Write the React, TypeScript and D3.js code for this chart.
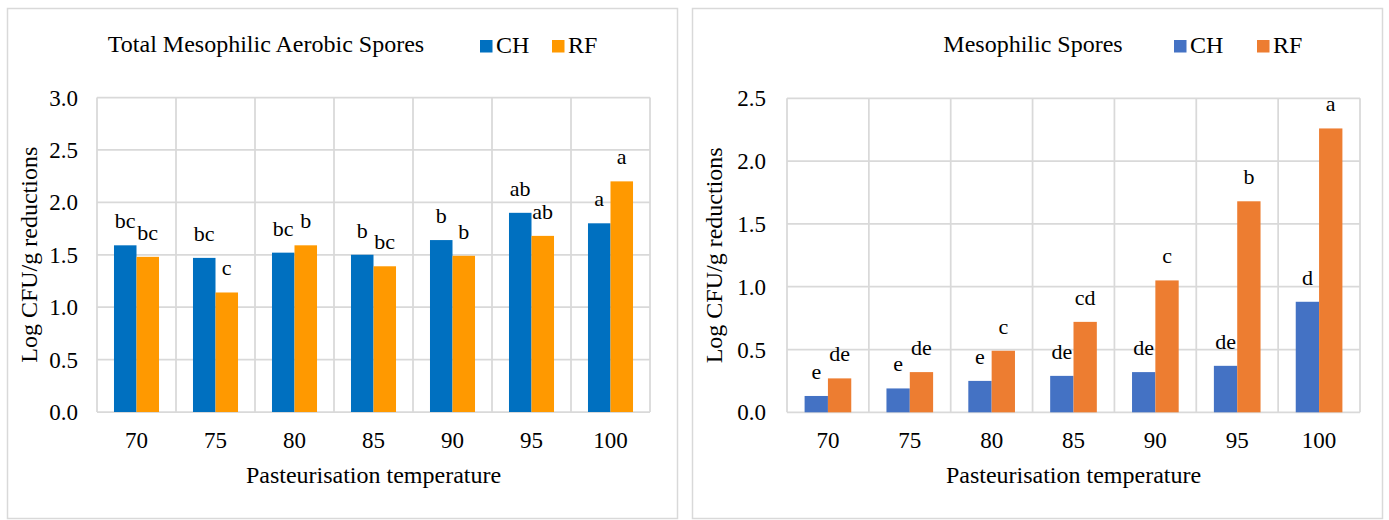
import React from "react";
import * as d3 from "d3";

const categories = ["70", "75", "80", "85", "90", "95", "100"];
const seriesNames = ["CH", "RF"];

// Left chart: Total Mesophilic Aerobic Spores
const leftCH = [1.59, 1.47, 1.52, 1.5, 1.64, 1.9, 1.8];
const leftRF = [1.48, 1.14, 1.59, 1.39, 1.49, 1.68, 2.2];
const leftCHLabels = ["bc", "bc", "bc", "b", "b", "ab", "a"];
const leftRFLabels = ["bc", "c", "b", "bc", "b", "ab", "a"];
const leftTicks = [0, 0.5, 1.0, 1.5, 2.0, 2.5, 3.0];

// Right chart: Mesophilic Spores
const rightCH = [0.13, 0.19, 0.25, 0.29, 0.32, 0.37, 0.88];
const rightRF = [0.27, 0.32, 0.49, 0.72, 1.05, 1.68, 2.26];
const rightCHLabels = ["e", "e", "e", "de", "de", "de", "d"];
const rightRFLabels = ["de", "de", "c", "cd", "c", "b", "a"];
const rightTicks = [0, 0.5, 1.0, 1.5, 2.0, 2.5];

const FONT = "'Liberation Serif', 'Times New Roman', serif";
const GRID = "#d9d9d9";

type ChartProps = {
  frame: { x: number; y: number; w: number; h: number };
  plot: { x0: number; x1: number; top: number; bottom: number };
  yMax: number;
  ticks: number[];
  ch: number[];
  rf: number[];
  chLabels: string[];
  rfLabels: string[];
  colors: string[];
  title: string;
  titleX: number;
  legendX: number[];
  yTitleX: number;
  yTickEnd: number;
};

function Chart(p: ChartProps) {
  const x = d3.scaleBand<string>().domain(categories).range([p.plot.x0, p.plot.x1]).padding(0);
  const bw = x.bandwidth();
  const inner = d3
    .scaleBand<string>()
    .domain(seriesNames)
    .range([bw * 0.215, bw * 0.785])
    .padding(0);
  const y = d3.scaleLinear().domain([0, p.yMax]).range([p.plot.bottom, p.plot.top]);
  const fmt = d3.format(".1f");
  const series = [
    { name: "CH", values: p.ch, labels: p.chLabels, color: p.colors[0] },
    { name: "RF", values: p.rf, labels: p.rfLabels, color: p.colors[1] },
  ];
  const midX = (p.plot.x0 + p.plot.x1) / 2;
  const midY = (p.plot.top + p.plot.bottom) / 2;
  const boundaries = categories.map((c) => x(c) as number).concat([p.plot.x1]);

  return (
    <g>
      <rect
        x={p.frame.x}
        y={p.frame.y}
        width={p.frame.w}
        height={p.frame.h}
        fill="#fff"
        stroke={GRID}
        strokeWidth={1.5}
      />
      {/* horizontal grid */}
      {p.ticks.map((t) => (
        <line
          key={"h" + t}
          x1={p.plot.x0}
          x2={p.plot.x1}
          y1={y(t)}
          y2={y(t)}
          stroke={GRID}
          strokeWidth={1.75}
        />
      ))}
      {/* vertical grid */}
      {boundaries.map((bx, i) => (
        <line
          key={"v" + i}
          x1={bx}
          x2={bx}
          y1={p.plot.top}
          y2={p.plot.bottom}
          stroke={GRID}
          strokeWidth={1.75}
        />
      ))}
      {/* bars */}
      {series.map((s) =>
        categories.map((c, i) => {
          const bx = (x(c) as number) + (inner(s.name) as number);
          const top = y(s.values[i]);
          return (
            <rect
              key={s.name + c}
              x={bx}
              y={top}
              width={inner.bandwidth()}
              height={y(0) - top}
              fill={s.color}
            />
          );
        })
      )}
      {/* data labels */}
      {series.map((s) =>
        categories.map((c, i) => {
          const cx = (x(c) as number) + (inner(s.name) as number) + inner.bandwidth() / 2;
          return (
            <text
              key={"l" + s.name + c}
              x={cx}
              y={y(s.values[i]) - 17}
              textAnchor="middle"
              fontFamily={FONT}
              fontSize={22}
              fill="#000"
            >
              {s.labels[i]}
            </text>
          );
        })
      )}
      {/* y tick labels */}
      {p.ticks.map((t) => (
        <text
          key={"yt" + t}
          x={p.yTickEnd}
          y={y(t)}
          dy="0.35em"
          textAnchor="end"
          fontFamily={FONT}
          fontSize={23}
          fill="#000"
        >
          {fmt(t)}
        </text>
      ))}
      {/* x tick labels */}
      {categories.map((c) => (
        <text
          key={"xt" + c}
          x={(x(c) as number) + bw / 2}
          y={448}
          textAnchor="middle"
          fontFamily={FONT}
          fontSize={23}
          fill="#000"
        >
          {c}
        </text>
      ))}
      {/* axis titles */}
      <text x={midX} y={483} textAnchor="middle" fontFamily={FONT} fontSize={24} fill="#000">
        Pasteurisation temperature
      </text>
      <text
        transform={`translate(${p.yTitleX},${midY}) rotate(-90)`}
        textAnchor="middle"
        dy="0.35em"
        fontFamily={FONT}
        fontSize={24}
        fill="#000"
      >
        Log CFU/g reductions
      </text>
      {/* title */}
      <text x={p.titleX} y={52} textAnchor="middle" fontFamily={FONT} fontSize={24} fill="#000">
        {p.title}
      </text>
      {/* legend */}
      {series.map((s, i) => (
        <g key={"lg" + s.name}>
          <rect x={p.legendX[i]} y={40} width={12.5} height={12.5} fill={s.color} />
          <text x={p.legendX[i] + 16} y={53} fontFamily={FONT} fontSize={24} fill="#000">
            {s.name}
          </text>
        </g>
      ))}
    </g>
  );
}

export default function App() {
  return (
    <svg
      width={1389}
      height={520}
      style={{ position: "absolute", left: 0, top: 0, display: "block", background: "#fff" }}
    >
      <rect x={0} y={0} width={1389} height={520} fill="#fff" />
      <Chart
        frame={{ x: 7.5, y: 8.5, w: 670, h: 510 }}
        plot={{ x0: 97, x1: 650, top: 97.5, bottom: 412 }}
        yMax={3}
        ticks={leftTicks}
        ch={leftCH}
        rf={leftRF}
        chLabels={leftCHLabels}
        rfLabels={leftRFLabels}
        colors={["#0070C0", "#FF9900"]}
        title="Total Mesophilic Aerobic Spores"
        titleX={266}
        legendX={[480, 552]}
        yTitleX={29}
        yTickEnd={78}
      />
      <Chart
        frame={{ x: 692.5, y: 8.5, w: 690, h: 510 }}
        plot={{ x0: 787, x1: 1360, top: 98.3, bottom: 412.3 }}
        yMax={2.5}
        ticks={rightTicks}
        ch={rightCH}
        rf={rightRF}
        chLabels={rightCHLabels}
        rfLabels={rightRFLabels}
        colors={["#4472C4", "#ED7D31"]}
        title="Mesophilic Spores"
        titleX={1033}
        legendX={[1174, 1257]}
        yTitleX={714}
        yTickEnd={766}
      />
    </svg>
  );
}
